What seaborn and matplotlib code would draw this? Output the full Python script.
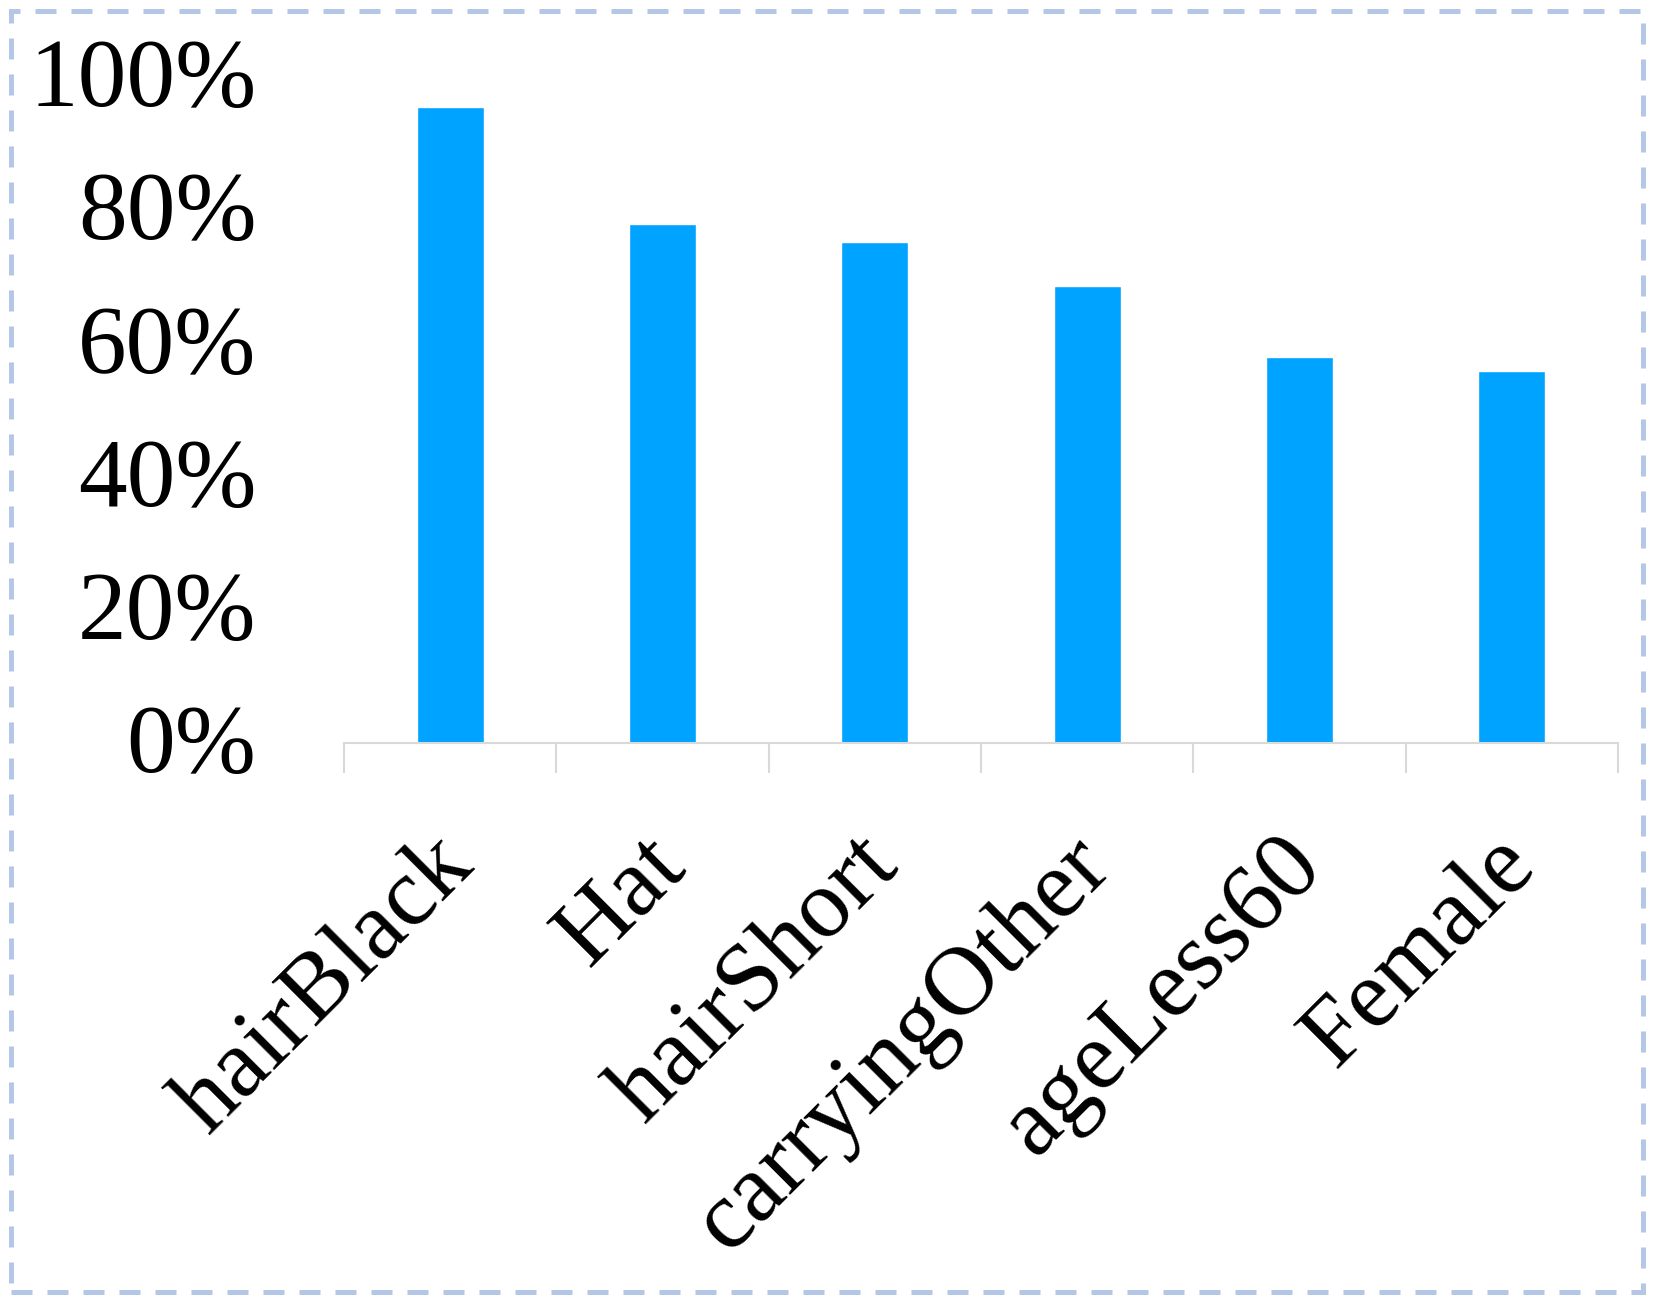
"""
Purpose: attribute ratio bar chart (Excel-style look)
"""

# Dependencies
import numpy as np
import pandas as pd
import seaborn as sns
import matplotlib.pyplot as plt
from matplotlib.patches import Rectangle
from matplotlib.ticker import PercentFormatter
from matplotlib.transforms import ScaledTranslation

# Data
attributes = ['hairBlack', 'Hat', 'hairShort', 'carryingOther', 'ageLess60', 'Female']
ratios = [0.955, 0.779, 0.752, 0.686, 0.580, 0.559]
y_ticks = [0, 0.2, 0.4, 0.6, 0.8, 1.0]

df = pd.DataFrame({'attribute': attributes, 'ratio': ratios})

# Style
sns.set_style('white')
plt.rcParams['font.family'] = ['Liberation Serif', 'DejaVu Serif']

fig = plt.figure(figsize=(16.61, 13.11), dpi=100)
ax = fig.add_axes([0.2071, 0.4333, 0.7670, 0.5080])

sns.barplot(data=df, x='attribute', y='ratio', color='#00A3FF', width=0.315,
            saturation=1, ax=ax)

ax.set_xlim(-0.5, len(attributes) - 0.5)
ax.set_ylim(0, 1)
ax.set_yticks(y_ticks)
ax.yaxis.set_major_formatter(PercentFormatter(1.0, decimals=0))
ax.set_xlabel('')
ax.set_ylabel('')

# Spines: only a light gray category axis
for side in ['top', 'right', 'left']:
    ax.spines[side].set_visible(False)
ax.spines['bottom'].set_color('#D9D9D9')
ax.spines['bottom'].set_linewidth(1.5)

# Tick marks between categories, labels at category centres
ax.set_xticks(np.arange(-0.5, len(attributes)), minor=True)
ax.tick_params(axis='x', which='minor', length=21.5, width=1.5, color='#D9D9D9',
               direction='out', bottom=True)
ax.tick_params(axis='x', which='major', length=0, pad=56, labelsize=70,
               labelcolor='black')
ax.tick_params(axis='y', which='major', length=0, pad=63, labelsize=70,
               labelcolor='black')

ydown = ScaledTranslation(0, -0.06, fig.dpi_scale_trans)
for lab in ax.get_yticklabels():
    lab.set_va('center')
    lab.set_transform(lab.get_transform() + ydown)

shift = ScaledTranslation(-0.22, 0, fig.dpi_scale_trans)
for lab in ax.get_xticklabels():
    lab.set_rotation(45)
    lab.set_ha('right')
    lab.set_va('top')
    lab.set_rotation_mode('anchor')
    lab.set_transform(lab.get_transform() + shift)

# Dashed frame round the whole figure
frame = Rectangle((0.0066, 0.0145), 0.9825, 0.9771, transform=fig.transFigure,
                  fill=False, edgecolor='#B4C7E7', linewidth=3.6,
                  linestyle=(0, (4.2, 3)))
fig.patches.append(frame)

plt.savefig('out.png', dpi=100)
plt.close()
